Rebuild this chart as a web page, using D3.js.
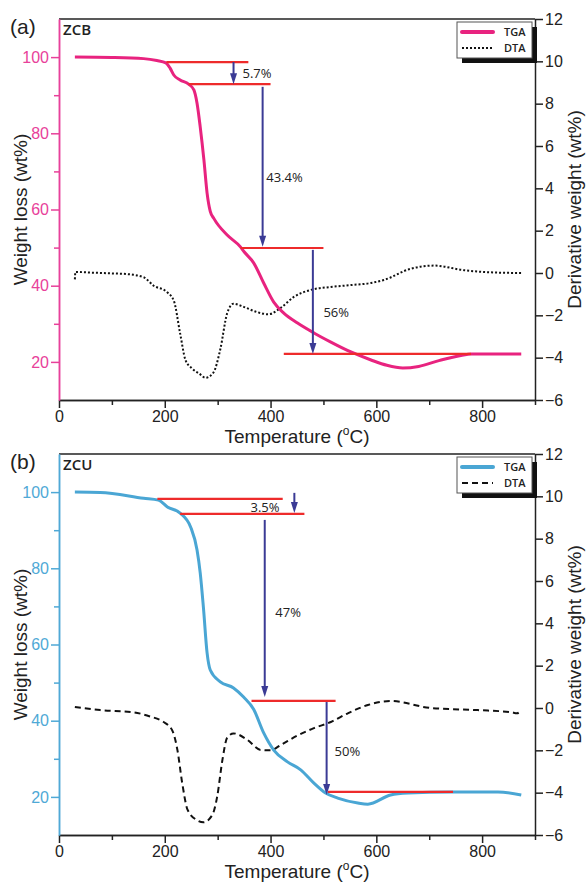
<!DOCTYPE html>
<html>
<head>
<meta charset="utf-8">
<script src="https://cdn.jsdelivr.net/npm/d3@7"></script>
<style>
body { margin: 0; background: #fff; }
svg text { font-family: "Liberation Sans", Arial, sans-serif; }
</style>
</head>
<body>
<div id="chart"></div>
<script>
// axis ticks
var xMajor = [0, 200, 400, 600, 800];
var xMinor = [100, 300, 500, 700, 900];
var wMajor = [20, 40, 60, 80, 100];
var wMinor = [30, 50, 70, 90];
var dMajor = [-6, -4, -2, 0, 2, 4, 6, 8, 10, 12];

// (a) ZCB
var zcbTgaT = [30, 100, 160, 185, 202, 210, 217, 229, 245, 255, 261, 267, 274, 280, 286, 293, 318, 343, 350, 368, 387, 406, 425, 451, 482, 514, 552, 590, 620, 650, 680, 720, 760, 780, 874];
var zcbTgaW = [100, 99.9, 99.6, 99.1, 98.5, 97.1, 95.3, 94.0, 92.9, 91.4, 87.9, 81.7, 73.0, 64.3, 59.5, 57.6, 53.3, 50.2, 48.9, 46.0, 40.7, 35.7, 32.8, 30.2, 27.6, 25.2, 22.6, 20.5, 19.1, 18.4, 18.8, 20.4, 21.7, 22.1, 22.1];
var zcbDtaT = [30, 31, 60, 100, 128, 160, 179, 204, 217, 229, 239, 251, 265, 277, 292, 305, 318, 330, 349, 375, 396, 419, 444, 476, 514, 552, 590, 614, 665, 709, 766, 817, 874];
var zcbDtaD = [-0.3, 0.05, 0.02, -0.02, -0.05, -0.2, -0.6, -0.9, -1.3, -2.85, -4.1, -4.5, -4.75, -4.95, -4.7, -3.6, -1.9, -1.45, -1.6, -1.85, -1.95, -1.65, -1.13, -0.8, -0.66, -0.57, -0.47, -0.33, 0.2, 0.35, 0.13, 0.03, 0];
// [weight, from T, to T]
var zcbSteps = [[98.7, 203, 358], [92.9, 245, 400], [49.9, 343, 500], [22.1, 425, 779]];
// [T, from weight, to weight]
var zcbArrows = [[330, 98.7, 92.9], [385, 92.2, 50.2], [480, 49.4, 22.1]];
var zcbLabels = [["5.7%", 347, 95.6], ["43.4%", 392, 68.5], ["56%", 500, 33.1]];

// (b) ZCU
var zcuTgaT = [30, 78, 160, 188, 205, 229, 249, 261, 267, 273, 280, 286, 305, 330, 349, 368, 387, 406, 432, 457, 482, 504, 527, 565, 584, 627, 660, 741, 830, 874];
var zcuTgaW = [100, 99.9, 98.4, 97.9, 96.1, 94.5, 90.8, 84.8, 78.8, 69.8, 57.8, 53.3, 50.2, 48.6, 46.2, 43.0, 36.8, 32.3, 29.2, 27.1, 23.6, 21.0, 19.7, 18.4, 18.1, 20.5, 21.0, 21.3, 21.3, 20.5];
var zcuDtaT = [30, 78, 140, 172, 197, 214, 224, 233, 243, 261, 273, 290, 299, 309, 318, 330, 356, 381, 400, 419, 451, 482, 514, 546, 584, 627, 703, 792, 855, 866, 874];
var zcuDtaD = [0.05, -0.1, -0.2, -0.4, -0.65, -1.05, -2.0, -3.55, -4.8, -5.3, -5.4, -5.05, -4.2, -2.45, -1.4, -1.2, -1.5, -1.98, -2.0, -1.75, -1.3, -0.95, -0.66, -0.25, 0.14, 0.33, 0, -0.1, -0.2, -0.25, -0.1];
var zcuSteps = [[98.2, 186, 423], [94.3, 229, 464], [45.2, 364, 523], [21.3, 508, 745]];
var zcuArrows = [[445, 99.8, 94.5], [389, 92.7, 46.2], [506, 44.9, 20.5]];
var zcuLabels = [["3.5%", 362, 96.1], ["47%", 409, 68.5], ["50%", 521, 32.0]];

var svg = d3.select("#chart").append("svg")
    .attr("width", 587)
    .attr("height", 886);

var margin = {left: 59, right: 52, top: 19};
var width = 587 - margin.left - margin.right,
    height = 381;

function zip(a, b) {
    return a.map(function(d, i) { return [d, b[i]]; });
}

// d3 axis sets its own font on the group, so restyle after the call
function tickFont(sel) {
    sel.attr("font-family", "Liberation Sans, Arial, sans-serif").attr("font-size", 16);
}

function drawPanel(top, tag, name, color, axisColor, tga, dta, dtaDash, steps, arrows, labels) {
    var g = svg.append("g").attr("transform", "translate(" + margin.left + "," + top + ")");
    var x = d3.scaleLinear().domain([0, 900]).range([0, width]);
    var y = d3.scaleLinear().domain([10, 110]).range([height, 0]);
    var y2 = d3.scaleLinear().domain([-6, 12]).range([height, 0]);

    // top border
    g.append("line")
        .attr("x1", 0).attr("x2", width)
        .attr("y1", 0).attr("y2", 0)
        .attr("stroke", "#222").attr("stroke-width", 1.5);

    // x axis
    g.append("g").attr("transform", "translate(0," + height + ")").attr("color", "#222")
        .call(d3.axisBottom(x).tickValues(xMajor).tickSize(8).tickPadding(3).tickSizeOuter(0))
        .call(tickFont);
    g.append("g").attr("transform", "translate(0," + height + ")").attr("color", "#222")
        .call(d3.axisBottom(x).tickValues(xMinor).tickSize(5).tickFormat("").tickSizeOuter(0));

    // left axis
    g.append("g").attr("color", axisColor)
        .call(d3.axisLeft(y).tickValues(wMajor).tickSize(8).tickPadding(2).tickSizeOuter(0))
        .call(tickFont);
    g.append("g").attr("color", axisColor)
        .call(d3.axisLeft(y).tickValues(wMinor).tickSize(5).tickFormat("").tickSizeOuter(0));

    // right axis
    g.append("g").attr("transform", "translate(" + width + ",0)").attr("color", "#222")
        .call(d3.axisRight(y2).tickValues(dMajor).tickSize(8).tickPadding(2).tickSizeOuter(0))
        .call(tickFont);

    g.selectAll(".domain").attr("stroke-width", 1.5);
    g.selectAll(".tick line").attr("stroke-width", 1.5);

    // curves
    var lineW = d3.line().x(function(d) { return x(d[0]); }).y(function(d) { return y(d[1]); }).curve(d3.curveMonotoneX);
    var lineD = d3.line().x(function(d) { return x(d[0]); }).y(function(d) { return y2(d[1]); }).curve(d3.curveMonotoneX);

    g.append("path").datum(dta)
        .attr("fill", "none").attr("stroke", "#111").attr("stroke-width", 2)
        .attr("stroke-dasharray", dtaDash)
        .attr("d", lineD);

    g.append("path").datum(tga)
        .attr("fill", "none").attr("stroke", color).attr("stroke-width", 3)
        .attr("d", lineW);

    // step lines
    g.selectAll(".step").data(steps).enter().append("line")
        .attr("class", "step")
        .attr("x1", function(d) { return x(d[1]); })
        .attr("x2", function(d) { return x(d[2]); })
        .attr("y1", function(d) { return y(d[0]); })
        .attr("y2", function(d) { return y(d[0]); })
        .attr("stroke", "#ee2b2b").attr("stroke-width", 2.2);

    // arrows
    var arrowColor = "#3b3b95";
    g.selectAll(".arrow").data(arrows).enter().append("line")
        .attr("class", "arrow")
        .attr("x1", function(d) { return x(d[0]); })
        .attr("x2", function(d) { return x(d[0]); })
        .attr("y1", function(d) { return y(d[1]); })
        .attr("y2", function(d) { return y(d[2]) - 6; })
        .attr("stroke", arrowColor).attr("stroke-width", 2);
    g.selectAll(".head").data(arrows).enter().append("path")
        .attr("class", "head")
        .attr("fill", arrowColor)
        .attr("d", function(d) {
            var px = x(d[0]), py = y(d[2]);
            return "M" + (px - 3.5) + "," + (py - 11) + "L" + (px + 3.5) + "," + (py - 11) + "L" + px + "," + py + "Z";
        });

    g.selectAll(".pct").data(labels).enter().append("text")
        .attr("class", "pct")
        .attr("x", function(d) { return x(d[1]); })
        .attr("y", function(d) { return y(d[2]); })
        .attr("dy", "0.35em")
        .style("font-family", "'Open Sans', sans-serif")
        .style("font-size", "13px")
        .attr("fill", "#222")
        .text(function(d) { return d[0]; });

    // legend
    var lg = g.append("g").attr("transform", "translate(" + (width - 78) + ",3)");
    lg.append("rect").attr("x", 5).attr("y", 5).attr("width", 75).attr("height", 36).attr("fill", "#111");
    lg.append("rect").attr("x", 0).attr("y", 0).attr("width", 75).attr("height", 36)
        .attr("fill", "#fff").attr("stroke", "#555").attr("stroke-width", 1);
    lg.append("line").attr("x1", 5).attr("x2", 36).attr("y1", 10).attr("y2", 10)
        .attr("stroke", color).attr("stroke-width", 4).attr("stroke-linecap", "round");
    lg.append("line").attr("x1", 5).attr("x2", 36).attr("y1", 26).attr("y2", 26)
        .attr("stroke", "#111").attr("stroke-width", 2).attr("stroke-dasharray", dtaDash);
    lg.selectAll(".lt").data(["TGA", "DTA"]).enter().append("text")
        .attr("x", 47).attr("y", function(d, i) { return 10 + i * 16; })
        .attr("dy", "0.35em")
        .style("font-family", "'Open Sans', sans-serif")
        .style("font-size", "11px").style("font-weight", 600)
        .attr("fill", "#222")
        .text(function(d) { return d; });

    // titles
    svg.append("text").attr("x", 10).attr("y", top + 15)
        .style("font-size", "21px").attr("fill", "#222").text(tag);
    g.append("text").attr("x", 4).attr("y", 16)
        .style("font-family", "'Open Sans', sans-serif")
        .style("font-size", "15px").style("font-weight", 600)
        .attr("fill", "#222").text(name);

    svg.append("text")
        .attr("transform", "translate(27," + (top + height / 2) + ") rotate(-90)")
        .attr("text-anchor", "middle").style("font-size", "19px").attr("fill", "#222")
        .text("Weight loss (wt%)");
    svg.append("text")
        .attr("transform", "translate(581," + (top + height / 2) + ") rotate(-90)")
        .attr("text-anchor", "middle").style("font-size", "19px").attr("fill", "#222")
        .text("Derivative weight (wt%)");

    var xt = svg.append("text")
        .attr("x", margin.left + width / 2).attr("y", top + height + 43)
        .attr("text-anchor", "middle").style("font-size", "19px").attr("fill", "#222");
    xt.append("tspan").text("Temperature (");
    xt.append("tspan").attr("dy", -8).style("font-size", "12px").text("o");
    xt.append("tspan").attr("dy", 8).text("C)");
}

drawPanel(19, "(a)", "ZCB", "#e8237f", "#e8419a",
    zip(zcbTgaT, zcbTgaW), zip(zcbDtaT, zcbDtaD), "2,2",
    zcbSteps, zcbArrows, zcbLabels);

drawPanel(454, "(b)", "ZCU", "#4aa6d4", "#4fa9d6",
    zip(zcuTgaT, zcuTgaW), zip(zcuDtaT, zcuDtaD), "6,4",
    zcuSteps, zcuArrows, zcuLabels);
</script>
</body>
</html>
